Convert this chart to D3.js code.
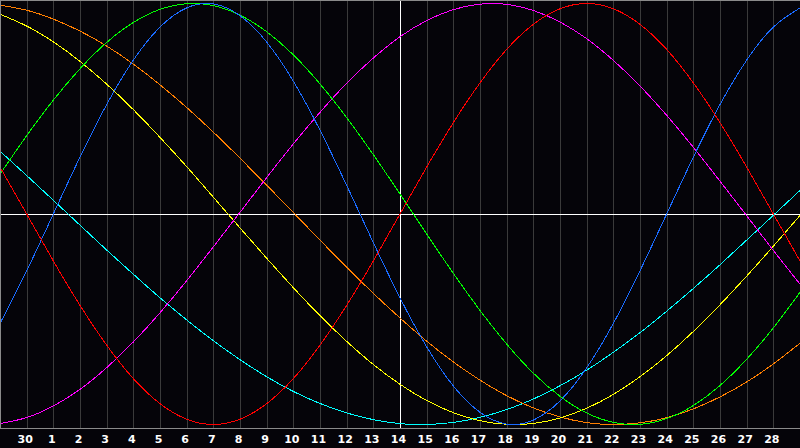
<!DOCTYPE html>
<html>
<head>
<meta charset="utf-8">
<script src="https://cdn.jsdelivr.net/npm/d3@7"></script>
<style>
  html, body { margin: 0; padding: 0; background: #050409; }
  svg { display: block; }
</style>
</head>
<body>
<svg id="chart" width="800" height="448"></svg>
<script>
// Day positions (gridline index 0..30) and the day-of-month labels at gridlines 1..29
const dayIndex = d3.range(0, 31);
const tickDays = d3.range(1, 30);
const tickLabels = ["30","1","2","3","4","5","6","7","8","9","10","11","12","13","14",
  "15","16","17","18","19","20","21","22","23","24","25","26","27","28"];
const todayIndex = 15;

// Values at every day gridline (-1 .. 1)
const blueValues = [-0.520,-0.270,0,0.270,0.520,0.731,0.888,0.979,0.998,0.942,0.817,0.631,0.398,0.136,-0.136,
  -0.398,-0.631,-0.817,-0.942,-0.998,-0.979,-0.888,-0.731,-0.520,-0.270,0,0.270,0.520,0.731,0.888,0.979];
const redValues = [0.223,0,-0.223,-0.434,-0.623,-0.782,-0.901,-0.975,-1,-0.975,-0.901,-0.782,-0.623,-0.434,-0.223,
  0,0.223,0.434,0.623,0.782,0.901,0.975,1,0.975,0.901,0.782,0.623,0.434,0.223,0,-0.223];
const greenValues = [0.189,0.372,0.541,0.690,0.815,0.910,0.972,0.999,0.990,0.945,0.866,0.756,0.618,0.458,0.282,
  0.095,-0.095,-0.282,-0.458,-0.618,-0.756,-0.866,-0.945,-0.990,-0.999,-0.972,-0.910,-0.815,-0.690,-0.541,-0.372];
const magentaValues = [-0.996,-0.967,-0.912,-0.833,-0.730,-0.608,-0.469,-0.317,-0.156,0.008,0.173,0.333,0.483,0.621,0.741,
  0.842,0.919,0.971,0.997,0.996,0.967,0.912,0.833,0.730,0.608,0.469,0.317,0.156,-0.008,-0.173,-0.333];
const yellowValues = [0.949,0.893,0.818,0.725,0.617,0.496,0.364,0.225,0.080,-0.066,-0.210,-0.350,-0.483,-0.605,-0.715,
  -0.809,-0.886,-0.944,-0.982,-0.999,-0.995,-0.969,-0.923,-0.857,-0.773,-0.673,-0.558,-0.431,-0.295,-0.153,-0.007];
const orangeValues = [0.992,0.968,0.926,0.869,0.798,0.712,0.614,0.506,0.389,0.265,0.137,0.007,-0.124,-0.253,-0.377,
  -0.494,-0.604,-0.703,-0.789,-0.863,-0.921,-0.964,-0.991,-1.000,-0.992,-0.968,-0.926,-0.869,-0.798,-0.712,-0.614];
const cyanValues = [0.298,0.183,0.065,-0.053,-0.171,-0.286,-0.398,-0.503,-0.602,-0.692,-0.773,-0.843,-0.900,-0.945,-0.977,
  -0.996,-1.000,-0.990,-0.966,-0.929,-0.879,-0.816,-0.742,-0.657,-0.564,-0.462,-0.354,-0.241,-0.124,-0.006,0.112];

const seriesList = [
  { name: "cyan",    values: cyanValues,    color: "#00ffff" },
  { name: "orange",  values: orangeValues,  color: "#ff7f00" },
  { name: "yellow",  values: yellowValues,  color: "#ffff00" },
  { name: "magenta", values: magentaValues, color: "#ff00ff" },
  { name: "green",   values: greenValues,   color: "#00ff00" },
  { name: "blue",    values: blueValues,    color: "#1a6bff" },
  { name: "red",     values: redValues,     color: "#ff0000" }
];

const W = 800, H = 448, plotBottom = 428;
const svg = d3.select("#chart");
svg.append("rect").attr("width", W).attr("height", H).attr("fill", "#050409");

const x = d3.scaleLinear().domain([0, 30]).range([0, W]);
const y = d3.scaleLinear().domain([-1, 1]).range([424.5, 3.5]);

// vertical day gridlines
svg.append("g").selectAll("line").data(tickDays.filter(d => d !== todayIndex)).join("line")
  .attr("x1", d => Math.round(x(d)) + 0.5).attr("x2", d => Math.round(x(d)) + 0.5)
  .attr("y1", 0).attr("y2", plotBottom)
  .attr("stroke", "#3a3a3a").attr("stroke-width", 1);

// clip for curves
svg.append("clipPath").attr("id", "plotClip").append("rect")
  .attr("x", 0).attr("y", 0).attr("width", W).attr("height", plotBottom);

// horizontal zero line
const y0 = Math.round(y(0)) + 0.5;
svg.append("line").attr("x1", 0).attr("x2", W).attr("y1", y0).attr("y2", y0)
  .attr("stroke", "#ffffff").attr("stroke-width", 1);

// today line
svg.append("line")
  .attr("x1", Math.round(x(todayIndex)) + 0.5).attr("x2", Math.round(x(todayIndex)) + 0.5)
  .attr("y1", 0).attr("y2", plotBottom)
  .attr("stroke", "#ffffff").attr("stroke-width", 1);

const line = d3.line()
  .x((d, i) => x(dayIndex[i]))
  .y(d => y(d))
  .curve(d3.curveNatural);

svg.append("g").attr("clip-path", "url(#plotClip)")
  .selectAll("path").data(seriesList).join("path")
  .attr("d", s => line(s.values))
  .attr("fill", "none")
  .attr("stroke", s => s.color)
  .attr("stroke-width", 1)
  .attr("shape-rendering", "crispEdges");

// frame: top and left borders, bottom axis line
svg.append("line").attr("x1", 0).attr("x2", W).attr("y1", 0.5).attr("y2", 0.5)
  .attr("stroke", "#8a8a8a");
svg.append("line").attr("x1", 0.5).attr("x2", 0.5).attr("y1", 0).attr("y2", plotBottom)
  .attr("stroke", "#8a8a8a");
svg.append("line").attr("x1", 0).attr("x2", W).attr("y1", plotBottom + 0.5).attr("y2", plotBottom + 0.5)
  .attr("stroke", "#8a8a8a");

// bottom axis labels
const axis = d3.axisBottom(x)
  .tickValues(tickDays)
  .tickFormat((d, i) => tickLabels[i])
  .tickSize(0)
  .tickPadding(0);
const gAxis = svg.append("g").attr("transform", `translate(-2,${plotBottom})`).call(axis);
gAxis.select(".domain").remove();
gAxis.selectAll("text")
  .attr("y", 15)
  .attr("dy", 0)
  .attr("fill", "#ffffff")
  .style("font-family", "'DejaVu Sans', sans-serif")
  .style("font-size", "11px")
  .style("font-weight", "bold");
</script>
</body>
</html>
